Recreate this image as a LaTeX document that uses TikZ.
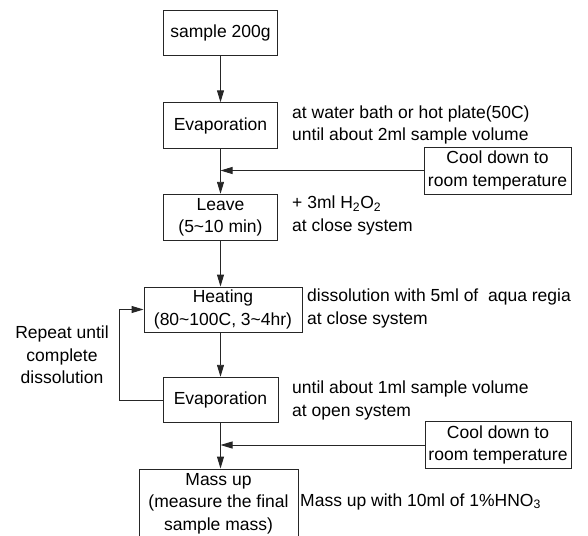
\documentclass[tikz,border=0pt]{standalone}
\usepackage{fontspec}
\setmainfont{Liberation Sans}
\usetikzlibrary{arrows.meta}
\begin{document}
\begin{tikzpicture}[x=1pt,y=-1pt,
  every node/.style={font=\fontsize{17.5}{22.5}\selectfont, inner sep=0pt, align=center},
  stepbox/.style={draw=black!85, line width=0.9pt, minimum width=#1},
  note/.style={anchor=west, align=left},
  arr/.style={draw=black!85, line width=0.9pt, -{Triangle[width=7pt,length=12pt]}},
  ln/.style={draw=black!85, line width=0.9pt}]
\useasboundingbox (0,0) rectangle (588,535);
% main boxes
\node[stepbox=114, minimum height=45] (s) at (220.5,33) {sample 200g};
\node[stepbox=114, minimum height=45.5] (e1) at (220.5,125.5) {Evaporation};
\node[stepbox=113.5, minimum height=46.5] (l) at (220.5,217.5) {Leave\\(5\textasciitilde10 min)};
\node[stepbox=158, minimum height=45] (h) at (223,309.5) {Heating\\(80\textasciitilde100C, 3\textasciitilde4hr)};
\node[stepbox=115, minimum height=45.5] (e2) at (220.5,400) {Evaporation};
\node[stepbox=159, minimum height=69] (m) at (218.5,503.5) {Mass up\\(measure the final\\sample mass)};
% side boxes
\node[stepbox=147, minimum height=47] (c1) at (497.5,170.5) {Cool down to\\room temperature};
\node[stepbox=146, minimum height=46.5] (c2) at (498,445) {Cool down to\\room temperature};
% notes
\node[note] (n1) at (292,125) {at water bath or hot plate(50C)\\until about 2ml sample volume};
\node[note] (n2) at (292,215.5) {+ 3ml H\textsubscript{2}O\textsubscript{2}\\at close system};
\node[note] (n3) at (307,308.5) {dissolution with 5ml of\ \ aqua regia\\at close system};
\node[note] (n4) at (292,400.5) {until about 1ml sample volume\\at open system};
\node[note] (n5) at (300,501.5) {Mass up with 10ml of 1\%HNO\textsubscript{3}};
\node (rep) at (62,355) {Repeat until\\complete\\dissolution};
% connectors
\draw[arr] (s) -- (e1);
\draw[arr] (e1) -- (l);
\draw[arr] (c1.west) -- (c1.west -| e1.south);
\draw[arr] (l.south) -- (l.south |- h.north);
\draw[arr] (e2.north |- h.south) -- (e2.north);
\draw[arr] (e2) -- (e2.south |- m.north);
\draw[arr] (c2.west) -- (c2.west -| e2.south);
\coordinate (fb) at (119,400);
\draw[arr] (e2.west) -- (fb) |- (h.west);
\end{tikzpicture}
\end{document}
